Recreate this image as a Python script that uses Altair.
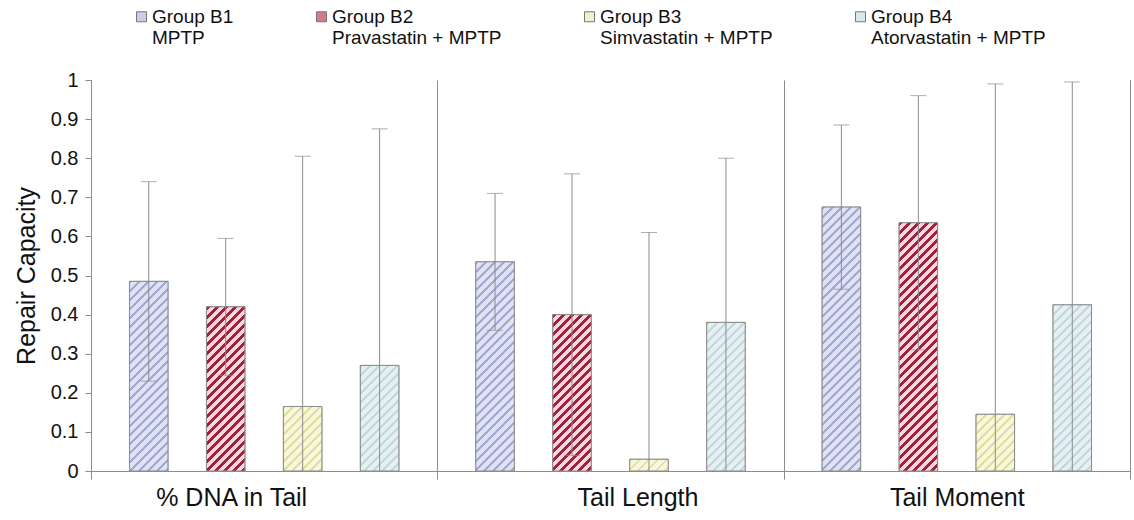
import altair as alt

# ---- data ----
categories = ["% DNA in Tail", "Tail Length", "Tail Moment"]
groups = [
    "Group B1|MPTP",
    "Group B2|Pravastatin + MPTP",
    "Group B3|Simvastatin + MPTP",
    "Group B4|Atorvastatin + MPTP",
]
b1_mean = [0.485, 0.535, 0.675]
b2_mean = [0.42, 0.40, 0.635]
b3_mean = [0.165, 0.03, 0.145]
b4_mean = [0.27, 0.38, 0.425]
b1_sd = [0.255, 0.175, 0.21]
b2_sd = [0.175, 0.36, 0.325]
b3_sd = [0.64, 0.58, 0.845]
b4_sd = [0.605, 0.42, 0.57]
y_ticks = [0, 0.1, 0.2, 0.3, 0.4, 0.5, 0.6, 0.7, 0.8, 0.9, 1]

# ---- styles ----
bg_colors = ["#dfe2f3", "#f8d8df", "#f8f7dc", "#e6f0f3"]
stripe_colors = ["#a2aad4", "#a3203d", "#e0de9e", "#c3d8de"]
stripe_frac = [0.33, 0.45, 0.33, 0.33]
legend_colors = ["#c9cde9", "#d27a8c", "#f1f0cc", "#d7e7eb"]
FONT = "Liberation Sans"
GRAY = "#8c8c8c"

W, H = 1039, 391
PERIOD = 9
BAR_W = W / 3 / (4 - 0.5 + 1.0) * 0.5


def hatch(h, w, bg, fg, frac):
    L = w + h
    stops = []
    i = 0
    while True:
        s = i * PERIOD / L
        if s >= 1:
            break
        e = min(1.0, s + frac * PERIOD / L)
        s2 = min(1.0, (i + 1) * PERIOD / L)
        stops += [
            {"offset": round(s, 5), "color": fg},
            {"offset": round(e, 5), "color": fg},
            {"offset": round(e, 5), "color": bg},
            {"offset": round(s2, 5), "color": bg},
        ]
        i += 1
    d = w * w + h * h
    return {
        "gradient": "linear",
        "x1": 0, "y1": 0,
        "x2": w * L / d, "y2": h * L / d,
        "stops": stops,
    }


means = [b1_mean, b2_mean, b3_mean, b4_mean]
sds = [b1_sd, b2_sd, b3_sd, b4_sd]
rows = []
for gi, g in enumerate(groups):
    for ci, c in enumerate(categories):
        m = means[gi][ci]
        rows.append({
            "category": c,
            "group": g,
            "mean": m,
            "sd": sds[gi][ci],
            "grad": hatch(m * H, BAR_W, bg_colors[gi], stripe_colors[gi], stripe_frac[gi]),
        })

data = alt.Data(values=rows)

x_scale = alt.Scale(paddingInner=0, paddingOuter=0)
x_axis = alt.Axis(
    title=None, tickBand="extent", grid=True, gridColor=GRAY, gridWidth=1,
    ticks=True, tickSize=8, tickColor=GRAY, domainColor=GRAY,
    labelFontSize=25, labelFont=FONT, labelColor="#111",
    labelPadding=6, labelAngle=0,
    labelOffset={
        "condition": [
            {"test": "datum.value === '% DNA in Tail'", "value": -33},
            {"test": "datum.value === 'Tail Length'", "value": 27},
        ],
        "value": 0,
    },
)
x_enc = alt.X("category:N", sort=categories, scale=x_scale, axis=x_axis)
xo_enc = alt.XOffset("group:N", sort=groups, scale=alt.Scale(paddingInner=0.5, paddingOuter=0.5))
y_axis = alt.Axis(
    values=y_ticks, format="~g", grid=False, tickSize=6, tickColor=GRAY,
    domainColor=GRAY, labelFontSize=20, labelFont=FONT, labelColor="#111",
    labelPadding=7, titleFontSize=25, titleFont=FONT, titleFontWeight="normal",
    titleColor="#111", titlePadding=11,
)
# right-hand frame line (domain only)
y_axis_right = alt.Axis(
    orient="right", domain=True, domainColor=GRAY, ticks=False,
    labels=False, grid=False, title=None,
)
y_scale = alt.Scale(domain=[0, 1], nice=False, zero=True)

legend_bars = alt.Chart(data).mark_bar(stroke=GRAY, strokeWidth=1).encode(
    x=x_enc,
    xOffset=xo_enc,
    y=alt.Y("mean:Q", scale=y_scale, axis=y_axis, title="Repair Capacity"),
    fill=alt.Fill(
        "group:N", sort=groups,
        scale=alt.Scale(domain=groups, range=legend_colors),
        legend=alt.Legend(
            orient="none", legendX=41, legendY=-73, direction="horizontal",
            columns=4, columnPadding=78, title=None, symbolType="square",
            symbolSize=100, symbolStrokeColor="#777", symbolStrokeWidth=1,
            labelFontSize=19, labelFont=FONT, labelColor="#111",
            labelExpr="split(datum.label, '|')", labelBaseline="middle",
            labelLimit=400, labelOffset=1,
        ),
    ),
)

hatch_bars = alt.Chart(data).mark_bar(stroke=GRAY, strokeWidth=1).encode(
    x=x_enc,
    xOffset=xo_enc,
    y=alt.Y("mean:Q", scale=y_scale, axis=None),
    fill=alt.Fill("grad:N", scale=None, legend=None),
)

err = alt.Chart(data).transform_calculate(
    lo="max(0, datum.mean - datum.sd)", hi="datum.mean + datum.sd"
)

err_rule = err.mark_rule(color=GRAY, strokeWidth=1).encode(
    x=x_enc, xOffset=xo_enc,
    y=alt.Y("lo:Q", scale=y_scale, axis=y_axis_right),
    y2="hi:Q",
)
cap_hi = err.mark_tick(color=GRAY, size=16, thickness=1).encode(
    x=x_enc, xOffset=xo_enc,
    y=alt.Y("hi:Q", scale=y_scale, axis=None),
)
cap_lo = err.transform_filter("datum.lo > 0").mark_tick(color=GRAY, size=16, thickness=1).encode(
    x=x_enc, xOffset=xo_enc,
    y=alt.Y("lo:Q", scale=y_scale, axis=None),
)

chart = alt.layer(legend_bars, hatch_bars, err_rule, cap_hi, cap_lo).resolve_axis(
    y="independent"
).properties(
    width=W, height=H,
    padding={"left": 91, "top": 80, "right": 4, "bottom": 43},
    autosize=alt.AutoSizeParams(type="none"),
).configure_view(stroke="transparent")

chart.save("out.html", embed_options={"renderer": "svg", "actions": False})
